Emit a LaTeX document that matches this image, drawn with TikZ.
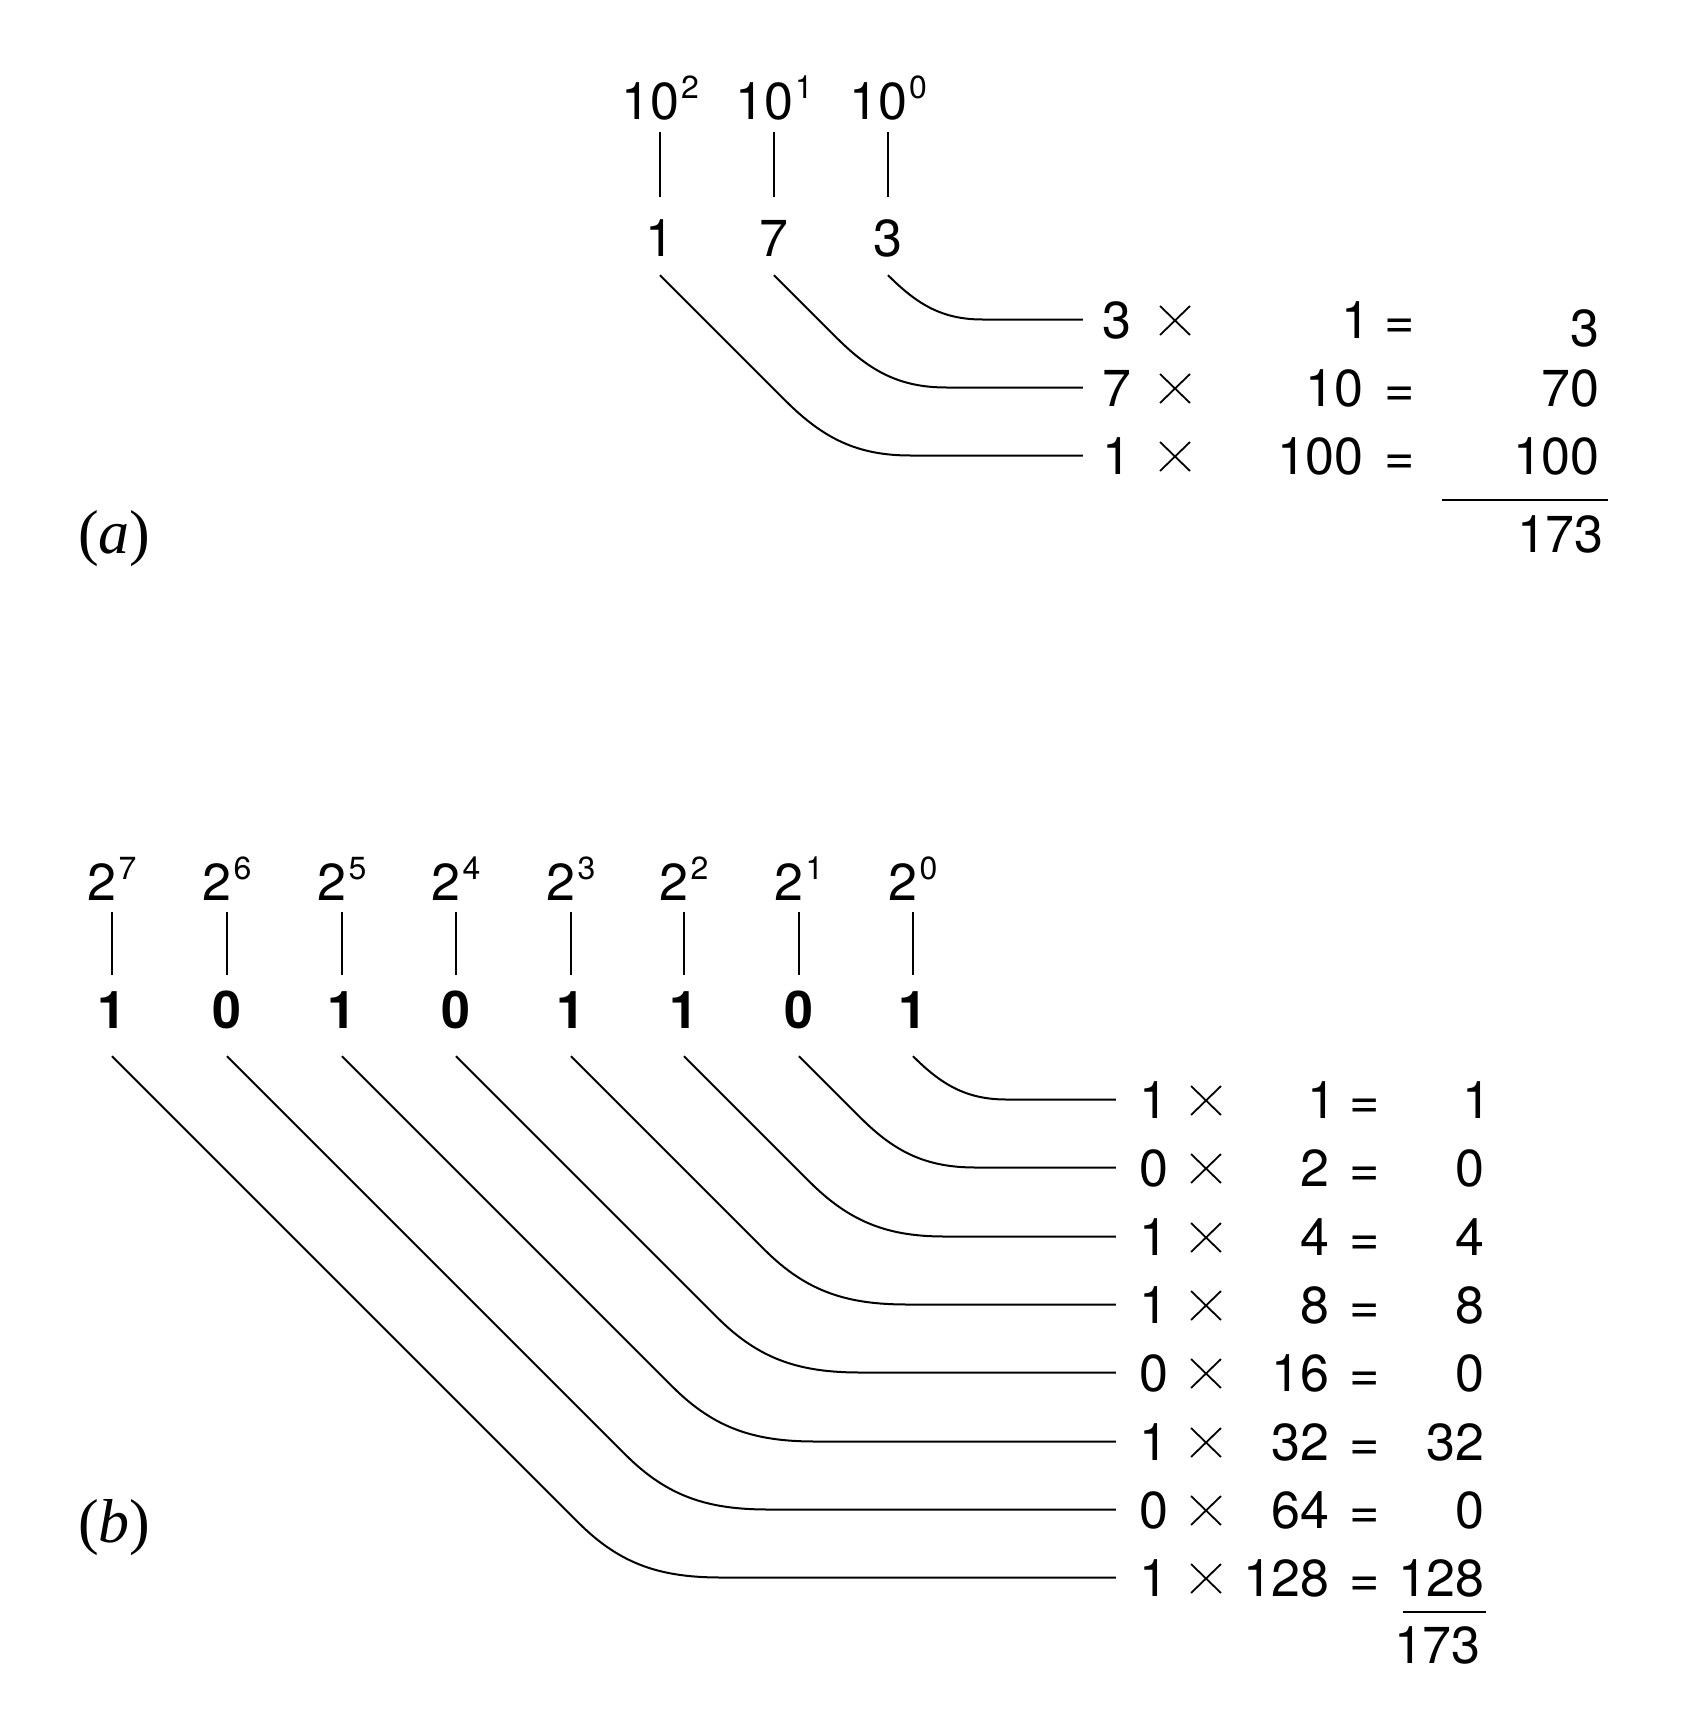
\documentclass[tikz,border=0pt]{standalone}
\usepackage{fontspec}
\setmainfont{TeX Gyre Heros}
\newfontfamily\labelfont{Liberation Serif}
\usetikzlibrary{shapes.misc}

\newcommand\pw[2]{#1\kern2pt\raisebox{21pt}{\fontsize{32}{32}\selectfont #2}}

\tikzset{
  num/.style={inner sep=0pt, text height=37pt, text depth=0pt, font=\fontsize{52}{60}\selectfont},
  bit/.style={num, font=\fontsize{52}{60}\selectfont\bfseries},
  times/.style={cross out, draw, inner sep=0pt, minimum width=28pt, minimum height=27pt, line width=1.8pt},
  tag/.style={inner sep=0pt, anchor=base west, font=\labelfont\fontsize{62}{70}\selectfont},
  wire/.style={line width=2pt},
  sumline/.style={line width=2.5pt}
}

\begin{document}
\begin{tikzpicture}[x=1pt, y=-1pt]
\useasboundingbox (0,0) rectangle (1684,1728);

\node[tag] (la) at (78,553) {(\textit{a})};
\node[tag] (lb) at (78,1542) {(\textit{b})};

\node[num, anchor=base] (p2) at (660,120) {\pw{10}{2}};
\node[num, anchor=base] (p1) at (774,120) {\pw{10}{1}};
\node[num, anchor=base] (p0) at (888,120) {\pw{10}{0}};
\node[num, anchor=base] (d2) at (660,257) {1};
\node[num, anchor=base] (d1) at (774,257) {7};
\node[num, anchor=base] (d0) at (888,257) {3};
\draw [wire, shorten <=12pt, shorten >=23pt] (p2.south) -- (d2.north);
\draw [wire, shorten <=12pt, shorten >=23pt] (p1.south) -- (d1.north);
\draw [wire, shorten <=12pt, shorten >=23pt] (p0.south) -- (d0.north);

\node[num, anchor=base] (ma0) at (1117,338) {3};
\node[times] (xa0) at (1175,320.5) {};
\node[num, anchor=base east] (fa0) at (1371,338) {1};
\node[num, anchor=base] (qa0) at (1400,338) {=};
\node[num, anchor=base east] (ra0) at (1600,346) {3};
\node[num, anchor=base] (ma1) at (1117,406) {7};
\node[times] (xa1) at (1175,388.5) {};
\node[num, anchor=base east] (fa1) at (1364,406) {10};
\node[num, anchor=base] (qa1) at (1400,406) {=};
\node[num, anchor=base east] (ra1) at (1600,406) {70};
\node[num, anchor=base] (ma2) at (1117,474) {1};
\node[times] (xa2) at (1175,456.5) {};
\node[num, anchor=base east] (fa2) at (1364,474) {100};
\node[num, anchor=base] (qa2) at (1400,474) {=};
\node[num, anchor=base east] (ra2) at (1600,474) {100};
\draw [sumline] (1442,500) -- (1608,500);
\node[num, anchor=base east] (ta) at (1604,552) {173};

\draw [wire, shorten >=19.5pt] ([yshift=-18pt]d0.south) to [out=-45, in=180] (982.5,0 |- ma0.west) -- (ma0.west);
\draw [wire, shorten >=19.5pt] ([yshift=-18pt]d1.south) -- ++(62.5,62.5) to [out=-45, in=180] (946.5,0 |- ma1.west) -- (ma1.west);
\draw [wire, shorten >=19.5pt] ([yshift=-18pt]d2.south) -- ++(125.5,125.5) to [out=-45, in=180] (910.5,0 |- ma2.west) -- (ma2.west);

\node[num, anchor=base] (e7) at (112,900) {\pw{2}{7}};
\node[num, anchor=base] (e6) at (227,900) {\pw{2}{6}};
\node[num, anchor=base] (e5) at (342,900) {\pw{2}{5}};
\node[num, anchor=base] (e4) at (456,900) {\pw{2}{4}};
\node[num, anchor=base] (e3) at (571,900) {\pw{2}{3}};
\node[num, anchor=base] (e2) at (684,900) {\pw{2}{2}};
\node[num, anchor=base] (e1) at (799,900) {\pw{2}{1}};
\node[num, anchor=base] (e0) at (913,900) {\pw{2}{0}};
\node[bit, anchor=base] (b7) at (112,1028) {1};
\node[bit, anchor=base] (b6) at (227,1028) {0};
\node[bit, anchor=base] (b5) at (342,1028) {1};
\node[bit, anchor=base] (b4) at (456,1028) {0};
\node[bit, anchor=base] (b3) at (571,1028) {1};
\node[bit, anchor=base] (b2) at (684,1028) {1};
\node[bit, anchor=base] (b1) at (799,1028) {0};
\node[bit, anchor=base] (b0) at (913,1028) {1};
\draw [wire, shorten <=12pt, shorten >=16pt] (e7.south) -- (b7.north);
\draw [wire, shorten <=12pt, shorten >=16pt] (e6.south) -- (b6.north);
\draw [wire, shorten <=12pt, shorten >=16pt] (e5.south) -- (b5.north);
\draw [wire, shorten <=12pt, shorten >=16pt] (e4.south) -- (b4.north);
\draw [wire, shorten <=12pt, shorten >=16pt] (e3.south) -- (b3.north);
\draw [wire, shorten <=12pt, shorten >=16pt] (e2.south) -- (b2.north);
\draw [wire, shorten <=12pt, shorten >=16pt] (e1.south) -- (b1.north);
\draw [wire, shorten <=12pt, shorten >=16pt] (e0.south) -- (b0.north);

\node[num, anchor=base] (mb0) at (1154,1118) {1};
\node[times] (xb0) at (1206,1100.5) {};
\node[num, anchor=base east] (fb0) at (1337,1118) {1};
\node[num, anchor=base] (qb0) at (1365,1118) {=};
\node[num, anchor=base east] (rb0) at (1492,1118) {1};
\node[num, anchor=base] (mb1) at (1154,1186) {0};
\node[times] (xb1) at (1206,1168.5) {};
\node[num, anchor=base east] (fb1) at (1330,1186) {2};
\node[num, anchor=base] (qb1) at (1365,1186) {=};
\node[num, anchor=base east] (rb1) at (1485,1186) {0};
\node[num, anchor=base] (mb2) at (1154,1255) {1};
\node[times] (xb2) at (1206,1237.5) {};
\node[num, anchor=base east] (fb2) at (1330,1255) {4};
\node[num, anchor=base] (qb2) at (1365,1255) {=};
\node[num, anchor=base east] (rb2) at (1485,1255) {4};
\node[num, anchor=base] (mb3) at (1154,1323) {1};
\node[times] (xb3) at (1206,1305.5) {};
\node[num, anchor=base east] (fb3) at (1330,1323) {8};
\node[num, anchor=base] (qb3) at (1365,1323) {=};
\node[num, anchor=base east] (rb3) at (1485,1323) {8};
\node[num, anchor=base] (mb4) at (1154,1391) {0};
\node[times] (xb4) at (1206,1373.5) {};
\node[num, anchor=base east] (fb4) at (1330,1391) {16};
\node[num, anchor=base] (qb4) at (1365,1391) {=};
\node[num, anchor=base east] (rb4) at (1485,1391) {0};
\node[num, anchor=base] (mb5) at (1154,1460) {1};
\node[times] (xb5) at (1206,1442.5) {};
\node[num, anchor=base east] (fb5) at (1330,1460) {32};
\node[num, anchor=base] (qb5) at (1365,1460) {=};
\node[num, anchor=base east] (rb5) at (1485,1460) {32};
\node[num, anchor=base] (mb6) at (1154,1528) {0};
\node[times] (xb6) at (1206,1510.5) {};
\node[num, anchor=base east] (fb6) at (1330,1528) {64};
\node[num, anchor=base] (qb6) at (1365,1528) {=};
\node[num, anchor=base east] (rb6) at (1485,1528) {0};
\node[num, anchor=base] (mb7) at (1154,1596) {1};
\node[times] (xb7) at (1206,1578.5) {};
\node[num, anchor=base east] (fb7) at (1330,1596) {128};
\node[num, anchor=base] (qb7) at (1365,1596) {=};
\node[num, anchor=base east] (rb7) at (1485,1596) {128};
\draw [sumline] (1403,1612) -- (1486,1612);
\node[num, anchor=base east] (tb) at (1481,1663) {173};

\draw [wire, shorten >=23.5pt] ([yshift=-28pt]b0.south) to [out=-45, in=180] (1006.5,0 |- mb0.west) -- (mb0.west);
\draw [wire, shorten >=23.5pt] ([yshift=-28pt]b1.south) -- ++(61.5,61.5) to [out=-45, in=180] (975.5,0 |- mb1.west) -- (mb1.west);
\draw [wire, shorten >=23.5pt] ([yshift=-28pt]b2.south) -- ++(125.5,125.5) to [out=-45, in=180] (944.5,0 |- mb2.west) -- (mb2.west);
\draw [wire, shorten >=23.5pt] ([yshift=-28pt]b3.south) -- ++(193.5,193.5) to [out=-45, in=180] (907.5,0 |- mb3.west) -- (mb3.west);
\draw [wire, shorten >=23.5pt] ([yshift=-28pt]b4.south) -- ++(261.5,261.5) to [out=-45, in=180] (860.5,0 |- mb4.west) -- (mb4.west);
\draw [wire, shorten >=23.5pt] ([yshift=-28pt]b5.south) -- ++(330.5,330.5) to [out=-45, in=180] (815.5,0 |- mb5.west) -- (mb5.west);
\draw [wire, shorten >=23.5pt] ([yshift=-28pt]b6.south) -- ++(398.5,398.5) to [out=-45, in=180] (768.5,0 |- mb6.west) -- (mb6.west);
\draw [wire, shorten >=23.5pt] ([yshift=-28pt]b7.south) -- ++(466.5,466.5) to [out=-45, in=180] (721.5,0 |- mb7.west) -- (mb7.west);
\end{tikzpicture}
\end{document}
